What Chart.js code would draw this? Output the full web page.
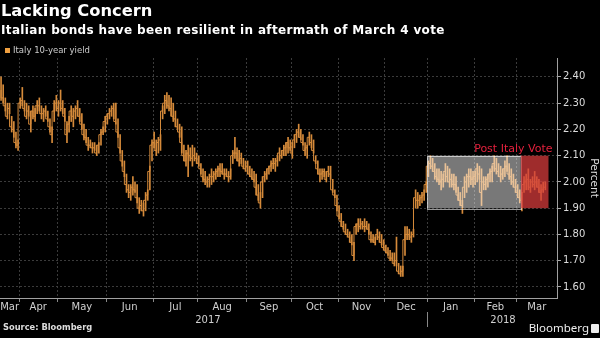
<!DOCTYPE html>
<html>
<head>
<meta charset="utf-8">
<script src="https://cdn.jsdelivr.net/npm/chart.js@4.4.1/dist/chart.umd.min.js"></script>
<style>
  html, body { margin: 0; padding: 0; background: #000; }
  #wrap { position: relative; width: 600px; height: 338px; overflow: hidden; background: #000; font-family: 'DejaVu Sans', sans-serif; }
  #chart { position: absolute; left: 0; top: 0; }
  .title { position: absolute; left: 1px; top: 3px; color: #fff; font-weight: bold; font-size: 16.3px; line-height: 16px; white-space: nowrap; }
  .subtitle { position: absolute; left: 1px; top: 24px; color: #fff; font-weight: bold; font-size: 12px; letter-spacing: 0.35px; line-height: 12px; white-space: nowrap; }
  .legend { position: absolute; left: 5px; top: 46px; color: #ccc; font-size: 8.5px; line-height: 9px; white-space: nowrap; }
  .legend i { display: inline-block; width: 5px; height: 5px; background: #f0a040; margin-right: 3px; vertical-align: 0px; }
  .source { position: absolute; left: 3px; top: 323px; color: #ddd; font-weight: bold; font-size: 8.3px; line-height: 9px; }
  .brand { position: absolute; right: 11px; top: 321px; color: #eee; font-family: 'Noto Sans', sans-serif; font-size: 11.5px; line-height: 13px; }
  .brand-icon { position: absolute; right: 1px; top: 324px; width: 8px; height: 9px; background: #eee; border-radius: 1px; }
</style>
</head>
<body>
<div id="wrap">
  <canvas id="chart" width="600" height="338"></canvas>
  <div class="title">Lacking Concern</div>
  <div class="subtitle">Italian bonds have been resilient in aftermath of March 4 vote</div>
  <div class="legend"><i></i>Italy 10-year yield</div>
  <div class="source">Source: Bloomberg</div>
  <div class="brand">Bloomberg</div>
  <div class="brand-icon"></div>
</div>
<script>
// Italy 10-year yield, one bar per trading day (index 0 = mid March 2017)
const lows = [
  2.31,2.30,2.27,2.24,2.26,2.19,2.17,2.13,2.12,2.28,
  2.29,2.27,2.24,2.25,2.19,2.24,2.23,2.26,2.27,2.24,
  2.23,2.25,2.23,2.19,2.15,2.23,2.27,2.25,2.27,2.26,
  2.23,2.15,2.19,2.23,2.21,2.24,2.25,2.23,2.20,2.16,
  2.15,2.12,2.13,2.11,2.12,2.10,2.11,2.14,2.18,2.19,
  2.22,2.24,2.25,2.24,2.22,2.17,2.11,2.06,2.02,1.96,
  1.94,1.93,1.95,1.96,1.92,1.88,1.89,1.87,1.89,1.93,
  1.97,2.08,2.13,2.10,2.11,2.12,2.24,2.26,2.28,2.27,
  2.25,2.23,2.21,2.20,2.17,2.11,2.08,2.06,2.02,2.08,
  2.06,2.08,2.07,2.06,2.03,2.00,1.99,1.98,1.98,1.99,
  2.00,2.01,2.02,2.02,2.03,2.01,2.02,2.00,2.01,2.07,
  2.09,2.08,2.06,2.07,2.05,2.04,2.03,2.02,2.01,2.00,
  1.95,1.93,1.90,1.94,2.00,2.01,2.03,2.04,2.05,2.04,
  2.06,2.08,2.09,2.10,2.10,2.11,2.12,2.09,2.13,2.15,
  2.17,2.16,2.14,2.10,2.09,2.14,2.13,2.11,2.07,2.03,
  2.00,2.01,2.02,2.00,2.02,2.01,1.96,1.94,1.89,1.86,
  1.83,1.82,1.80,1.79,1.77,1.76,1.70,1.80,1.81,1.82,
  1.82,1.81,1.82,1.80,1.77,1.77,1.76,1.78,1.77,1.76,
  1.74,1.73,1.72,1.70,1.70,1.68,1.68,1.65,1.64,1.64,
  1.72,1.78,1.78,1.77,1.79,1.90,1.90,1.91,1.92,1.93,
  1.96,2.02,2.05,2.04,2.01,2.00,1.99,1.97,1.98,2.00,
  2.00,1.98,1.98,1.97,1.96,1.93,1.91,1.88,1.94,1.96,
  1.98,1.99,1.98,1.99,2.00,2.01,1.91,1.97,1.97,1.98,
  2.00,2.00,2.04,2.03,2.02,2.00,2.01,2.02,2.04,2.01,
  1.99,1.98,1.96,1.94,1.92,1.89,1.96,1.97,1.97,1.96,
  1.98,1.97,1.98,1.96,1.93,1.96,1.97
];
const highs = [
  2.40,2.37,2.32,2.30,2.30,2.25,2.23,2.19,2.16,2.32,
  2.36,2.31,2.30,2.29,2.27,2.29,2.28,2.31,2.32,2.29,
  2.28,2.29,2.27,2.24,2.21,2.31,2.33,2.31,2.35,2.31,
  2.28,2.23,2.25,2.29,2.28,2.29,2.31,2.28,2.26,2.22,
  2.20,2.17,2.16,2.15,2.15,2.14,2.15,2.20,2.21,2.25,
  2.26,2.28,2.29,2.30,2.30,2.24,2.18,2.12,2.08,2.03,
  1.99,1.99,2.02,2.00,1.99,1.94,1.93,1.92,1.96,1.97,
  2.06,2.16,2.19,2.16,2.17,2.18,2.29,2.33,2.34,2.33,
  2.32,2.30,2.27,2.24,2.22,2.21,2.14,2.12,2.14,2.13,
  2.14,2.13,2.11,2.10,2.07,2.05,2.04,2.02,2.03,2.05,
  2.04,2.05,2.06,2.07,2.07,2.05,2.05,2.04,2.05,2.12,
  2.17,2.13,2.12,2.11,2.09,2.08,2.08,2.06,2.05,2.04,
  2.03,1.99,1.96,2.02,2.04,2.05,2.06,2.08,2.09,2.09,
  2.10,2.13,2.12,2.14,2.15,2.17,2.16,2.15,2.18,2.20,
  2.22,2.20,2.18,2.15,2.14,2.19,2.18,2.16,2.10,2.08,
  2.05,2.05,2.05,2.04,2.06,2.06,2.01,1.97,1.95,1.91,
  1.88,1.85,1.84,1.82,1.81,1.80,1.77,1.84,1.86,1.86,
  1.85,1.86,1.85,1.84,1.81,1.80,1.79,1.82,1.81,1.80,
  1.78,1.76,1.75,1.74,1.73,1.73,1.79,1.69,1.68,1.68,
  1.83,1.83,1.82,1.81,1.82,1.97,1.96,1.95,1.96,1.97,
  2.00,2.08,2.10,2.09,2.07,2.05,2.05,2.04,2.03,2.07,
  2.06,2.05,2.03,2.03,2.02,1.98,1.96,1.93,2.02,2.03,
  2.05,2.05,2.04,2.04,2.07,2.06,2.05,2.02,2.02,2.03,
  2.05,2.06,2.10,2.09,2.07,2.06,2.05,2.08,2.10,2.07,
  2.05,2.03,2.01,1.99,1.97,1.96,2.02,2.03,2.05,2.01,
  2.02,2.04,2.02,2.01,1.99,2.00,2.00
];
const closes = [
  2.35,2.32,2.29,2.25,2.28,2.21,2.20,2.15,2.14,2.30,
  2.31,2.28,2.25,2.27,2.22,2.27,2.25,2.29,2.29,2.26,
  2.26,2.27,2.24,2.21,2.18,2.27,2.30,2.28,2.30,2.28,
  2.25,2.18,2.22,2.27,2.25,2.27,2.28,2.25,2.22,2.18,
  2.17,2.14,2.14,2.13,2.13,2.11,2.14,2.18,2.19,2.23,
  2.25,2.26,2.27,2.28,2.23,2.19,2.13,2.08,2.04,1.99,
  1.97,1.96,1.98,1.97,1.94,1.90,1.91,1.89,1.93,1.95,
  2.04,2.14,2.15,2.12,2.15,2.16,2.27,2.30,2.31,2.29,
  2.28,2.25,2.24,2.21,2.19,2.15,2.10,2.08,2.11,2.10,
  2.09,2.10,2.09,2.07,2.05,2.02,2.01,2.00,2.01,2.02,
  2.02,2.03,2.04,2.05,2.04,2.03,2.03,2.02,2.02,2.10,
  2.11,2.11,2.08,2.09,2.06,2.05,2.06,2.03,2.02,2.01,
  1.98,1.95,1.92,2.00,2.02,2.03,2.05,2.06,2.07,2.07,
  2.08,2.11,2.10,2.12,2.13,2.15,2.13,2.11,2.16,2.18,
  2.19,2.17,2.15,2.12,2.13,2.17,2.15,2.12,2.08,2.05,
  2.03,2.03,2.04,2.01,2.04,2.03,1.97,1.95,1.91,1.87,
  1.85,1.83,1.81,1.80,1.79,1.77,1.72,1.83,1.84,1.83,
  1.84,1.83,1.83,1.82,1.78,1.78,1.77,1.80,1.79,1.77,
  1.75,1.74,1.73,1.71,1.71,1.69,1.70,1.66,1.65,1.66,
  1.78,1.80,1.80,1.79,1.80,1.94,1.93,1.93,1.94,1.95,
  1.99,2.06,2.07,2.06,2.04,2.02,2.01,2.00,2.01,2.04,
  2.02,2.00,2.01,1.99,1.99,1.95,1.93,1.91,1.98,2.00,
  2.02,2.02,2.01,2.02,2.05,2.03,1.96,2.00,1.99,2.01,
  2.03,2.04,2.07,2.05,2.04,2.02,2.03,2.05,2.06,2.03,
  2.02,2.00,1.98,1.96,1.94,1.93,1.99,2.00,2.01,1.98,
  2.00,1.99,2.00,1.98,1.96,1.97,1.98
];

// x axis: trading-day index; month edges and label spots in the same units
const monthEdges = [8.5, 26.5, 49.5, 71.5, 92.5, 115.5, 136.5, 158.5, 180.5, 200.5, 222.5, 242.5];
const monthSpots = [4, 17.5, 38, 60.5, 82, 104, 126, 147.5, 169.5, 190.5, 211.5, 232.5, 252];
const monthLabels = ['Mar', 'Apr', 'May', 'Jun', 'Jul', 'Aug', 'Sep', 'Oct', 'Nov', 'Dec', 'Jan', 'Feb', 'Mar'];
const yearSpots = [97.3, 236.1];
const yearLabels = ['2017', '2018'];
const yearEdge = 200.5;
const yTicks = [1.6, 1.7, 1.8, 1.9, 2.0, 2.1, 2.2, 2.3, 2.4];

// highlighted ranges: before / after the March 4 vote
const preVote = [200.5, 244.5];
const postVoteEnd = 257.5;
const boxRange = [1.90, 2.10];

const ORANGE = '#d58a3a';
const GRID = '#3b3b3b';

Chart.defaults.font.family = "'DejaVu Sans', sans-serif";
Chart.defaults.color = '#ccc';

const boxesPlugin = {
    id: 'voteBoxes',
    afterDatasetsDraw(chart) {
        const { ctx, scales } = chart;
        const x = scales.x, y = scales.y;
        const top = y.getPixelForValue(boxRange[1]);
        const bottom = y.getPixelForValue(boxRange[0]);
        const g1 = x.getPixelForValue(preVote[0]);
        const g2 = x.getPixelForValue(preVote[1]);
        const r2 = x.getPixelForValue(postVoteEnd);
        ctx.save();
        // grey box for the pre-vote range
        ctx.fillStyle = 'rgba(255,255,255,0.47)';
        ctx.fillRect(g1, top, g2 - g1, bottom - top);
        ctx.strokeStyle = 'rgba(255,255,255,0.6)';
        ctx.lineWidth = 1;
        ctx.strokeRect(Math.round(g1) + 0.5, Math.round(top) + 0.5, Math.round(g2 - g1), Math.round(bottom - top));
        // red box after the vote
        ctx.fillStyle = 'rgba(215,60,60,0.74)';
        ctx.fillRect(g2, top, r2 - g2, bottom - top);
        ctx.fillStyle = '#e3213d';
        ctx.font = "11px 'DejaVu Sans', sans-serif";
        ctx.textAlign = 'right';
        ctx.textBaseline = 'alphabetic';
        ctx.fillText('Post Italy Vote', r2 + 4, top - 4);
        // separator between the year labels
        const yearAxis = scales.x3;
        const sx = Math.round(x.getPixelForValue(yearEdge)) + 0.5;
        ctx.strokeStyle = '#888';
        ctx.beginPath();
        ctx.moveTo(sx, yearAxis.top - 3);
        ctx.lineTo(sx, yearAxis.bottom - 1);
        ctx.stroke();
        ctx.restore();
    }
};

const ctx = document.getElementById('chart').getContext('2d');
new Chart(ctx, {
    type: 'bar',
    data: {
        datasets: [{
            label: 'Italy 10-year yield',
            data: lows.map((lo, i) => ({ x: i, y: [lo, highs[i]] })),
            backgroundColor: ORANGE,
            barThickness: 1,
            borderWidth: 0
        }, {
            type: 'line',
            label: 'close',
            data: closes.map((c, i) => ({ x: i, y: c })),
            borderColor: ORANGE,
            borderWidth: 1,
            stepped: 'after',
            pointRadius: 0,
            fill: false
        }]
    },
    options: {
        responsive: false,
        animation: false,
        events: [],
        layout: { padding: { top: 58, bottom: 10, left: 0, right: 0 } },
        plugins: {
            legend: { display: false },
            tooltip: { enabled: false }
        },
        scales: {
            x: {
                type: 'linear', min: -0.5, max: 261.5, offset: false, weight: 0,
                afterBuildTicks: s => { s.ticks = monthEdges.map(v => ({ value: v })); },
                afterFit: s => { s.height = 4; },
                ticks: { display: false },
                grid: { color: GRID, offset: false, tickColor: '#888', tickLength: 4 },
                border: { color: '#a0a0a0', dash: [2, 2] }
            },
            x2: {
                type: 'linear', position: 'bottom', min: -0.5, max: 261.5, offset: false, weight: 1,
                afterBuildTicks: s => { s.ticks = monthSpots.map(v => ({ value: v })); },
                afterFit: s => { s.height = 13; },
                ticks: {
                    autoSkip: false, maxRotation: 0, padding: -1, color: '#d0d0d0',
                    font: { size: 10 },
                    callback: (v, i) => monthLabels[i]
                },
                grid: { display: false, drawTicks: false },
                border: { display: false }
            },
            x3: {
                type: 'linear', position: 'bottom', min: -0.5, max: 261.5, offset: false, weight: 2,
                afterBuildTicks: s => { s.ticks = yearSpots.map(v => ({ value: v })); },
                afterFit: s => { s.height = 13; },
                ticks: {
                    autoSkip: false, maxRotation: 0, padding: -1, color: '#d0d0d0',
                    font: { size: 10 },
                    callback: (v, i) => yearLabels[i]
                },
                grid: { display: false, drawTicks: false },
                border: { display: false }
            },
            y: {
                position: 'right', min: 1.558, max: 2.472, beginAtZero: false,
                afterBuildTicks: s => { s.ticks = yTicks.map(v => ({ value: v })); },
                afterFit: s => { s.width = 43; },
                ticks: { color: '#dcdcdc', font: { size: 10 }, padding: 2, callback: v => v.toFixed(2) },
                grid: { color: GRID, tickColor: '#aaa', tickLength: 4 },
                border: { color: '#a0a0a0', dash: [2, 2] },
                title: { display: true, text: 'Percent', color: '#dcdcdc', font: { size: 10.5 }, padding: { top: 0, bottom: 1 } }
            }
        }
    },
    plugins: [boxesPlugin]
});
</script>
</body>
</html>
